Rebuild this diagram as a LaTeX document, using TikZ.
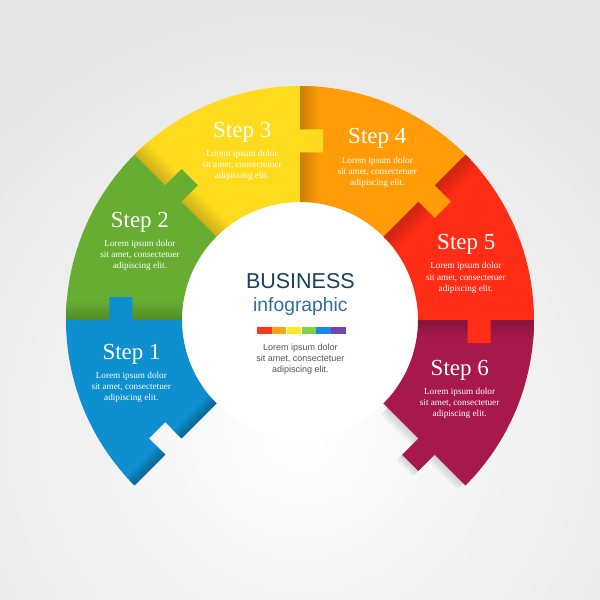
\documentclass[tikz,border=0pt]{standalone}
\usepackage{fontspec}
\usetikzlibrary{positioning}
\setmainfont{Liberation Serif}
\newfontfamily\arialf{Liberation Sans}
\definecolor{cBlue}{HTML}{0D8FD0}
\definecolor{cGreen}{HTML}{66AD32}
\definecolor{cYellow}{HTML}{FFDB1E}
\definecolor{cOrange}{HTML}{FF9C08}
\definecolor{cRed}{HTML}{FF2C16}
\definecolor{cMaroon}{HTML}{A8194B}
\definecolor{cNavy}{HTML}{1B3F5E}
\definecolor{cInfo}{HTML}{2F6F9F}
\definecolor{cGrayTxt}{HTML}{555555}
\definecolor{bR}{HTML}{F43B1F}
\definecolor{bO}{HTML}{FBA21A}
\definecolor{bY}{HTML}{FFE924}
\definecolor{bG}{HTML}{7DD24E}
\definecolor{bB}{HTML}{1E88E5}
\definecolor{bP}{HTML}{7247A6}
\tikzset{
  steplabel/.style={text=white, font=\fontsize{23}{27}\selectfont, anchor=base, inner sep=0pt},
  loremtxt/.style={text=white, font=\fontsize{9.2}{11.1}\selectfont, align=center, inner sep=0pt},
  centertxt/.style={text=cGrayTxt, font=\arialf\fontsize{9}{11.1}\selectfont, align=center, inner sep=0pt},
  barseg/.style={inner sep=0pt, minimum width=14.42pt, minimum height=6.9pt, draw=none},
}
\newcommand\puzpiece[2]{%
  \fill[#2,rotate=#1] (118,0) -- (167.5,0) -- (167.5,-23) -- (190.5,-23) -- (190.5,0) -- (234,0)
    arc[start angle=0,end angle=45,radius=234] -- (45:118)
    arc[start angle=45,end angle=0,radius=118] -- cycle;}
\newcommand\pshadow[2]{%
  \begin{scope}
    \clip (0,0) circle[radius=234];
    \begin{scope}[transform canvas={rotate=#1}]
      \shade[top color=#2!80!black, bottom color=#2] (118,-19) rectangle (240,0);
    \end{scope}
  \end{scope}}
\begin{document}
\begin{tikzpicture}[x=1pt,y=1pt]
\useasboundingbox (-300,-280) rectangle (300,320);
% background
\begin{scope}
  \clip (-300,-280) rectangle (300,320);
  \shade[inner color=white, outer color=black!10] (-430,-540) rectangle (430,320);
\end{scope}
\fill[white] (0,0) circle[radius=118];
% shadow of step 6 on the background
\begin{scope}[transform canvas={rotate=-45}]
  \shade[top color=black!20, bottom color=white!98!black] (124,-11) rectangle (231,0);
  \shade[top color=black!20, bottom color=white!98!black] (167.5,-32) rectangle (190.5,-23);
\end{scope}
% pieces
\puzpiece{-45}{cMaroon}
\pshadow{0}{cMaroon}
\puzpiece{0}{cRed}
\pshadow{45}{cRed}
\puzpiece{45}{cOrange}
\pshadow{90}{cOrange}
\puzpiece{90}{cYellow}
\pshadow{135}{cYellow}
\puzpiece{135}{cGreen}
\pshadow{180}{cGreen}
% step 1 with notch
\fill[cBlue, rotate=180] (118,0) -- (167.5,0) -- (167.5,-23) -- (190.5,-23) -- (190.5,0) -- (234,0)
    arc[start angle=0,end angle=45,radius=234] -- (45:190.5) -- (38.116:191.88) -- (37.182:169.07) -- (45:167.5) -- (45:118)
    arc[start angle=45,end angle=0,radius=118] -- cycle;
\begin{scope}
  \clip[rotate=180] (118,0) -- (167.5,0) -- (167.5,-23) -- (190.5,-23) -- (190.5,0) -- (234,0)
    arc[start angle=0,end angle=45,radius=234] -- (45:190.5) -- (38.116:191.88) -- (37.182:169.07) -- (45:167.5) -- (45:118)
    arc[start angle=45,end angle=0,radius=118] -- cycle;
  \begin{scope}[transform canvas={rotate=225}]
    \shade[top color=cBlue!68!black, bottom color=cBlue] (118,-13) rectangle (240,0);
  \end{scope}
\end{scope}
% step texts
\node[steplabel] (s1) at (-168.4,-39.1) {Step 1};
\node[steplabel] (s2) at (-160.1,92.7) {Step 2};
\node[steplabel] (s3) at (-57.8,182.9) {Step 3};
\node[steplabel] (s4) at (77.3,176) {Step 4};
\node[steplabel] (s5) at (166.3,70.7) {Step 5};
\node[steplabel] (s6) at (159.8,-55.4) {Step 6};
\node[loremtxt] (l1) at (-168.7,-67.3) {Lorem ipsum dolor\\sit amet, consectetuer\\adipiscing elit.};
\node[loremtxt] (l2) at (-160,64.7) {Lorem ipsum dolor\\sit amet, consectetuer\\adipiscing elit.};
\node[loremtxt] (l3) at (-58.1,154.3) {Lorem ipsum dolor\\sit amet, consectetuer\\adipiscing elit.};
\node[loremtxt] (l4) at (77.3,147.8) {Lorem ipsum dolor\\sit amet, consectetuer\\adipiscing elit.};
\node[loremtxt] (l5) at (165.8,42.2) {Lorem ipsum dolor\\sit amet, consectetuer\\adipiscing elit.};
\node[loremtxt] (l6) at (159.6,-83.4) {Lorem ipsum dolor\\sit amet, consectetuer\\adipiscing elit.};
% center
\node[anchor=base, inner sep=0pt, text=cNavy, font=\arialf\fontsize{21.5}{24}\selectfont] (biz) at (0.4,31.1) {BUSINESS};
\node[anchor=base, inner sep=0pt, text=cInfo, font=\arialf\fontsize{19.3}{22}\selectfont] (info) at (0.4,9) {infographic};
\node[barseg, fill=bR] (b1) at (-35.6,-10.65) {};
\node[barseg, fill=bO, right=0pt of b1] (b2) {};
\node[barseg, fill=bY, right=0pt of b2] (b3) {};
\node[barseg, fill=bG, right=0pt of b3] (b4) {};
\node[barseg, fill=bB, right=0pt of b4] (b5) {};
\node[barseg, fill=bP, right=0pt of b5] (b6) {};
\node[centertxt] (lc) at (0.4,-39.4) {Lorem ipsum dolor\\sit amet, consectetuer\\adipiscing elit.};
\end{tikzpicture}
\end{document}
